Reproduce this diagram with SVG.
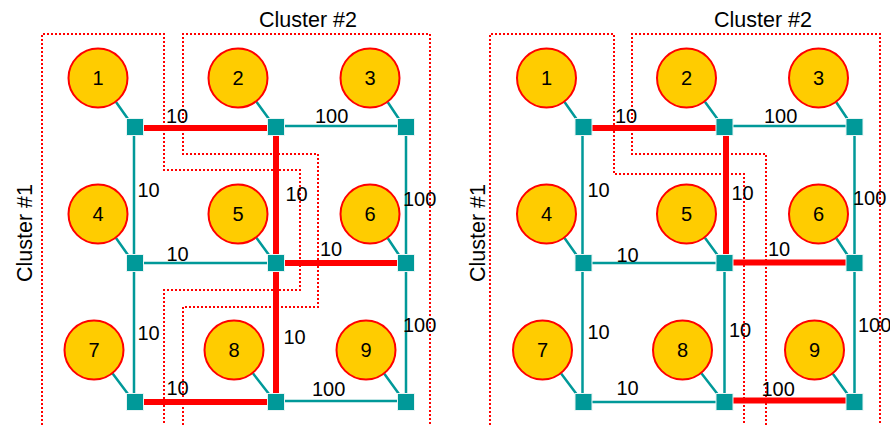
<svg xmlns="http://www.w3.org/2000/svg" width="890" height="425" viewBox="0 0 890 425">
<style>
.bg{fill:#ffffff}
.cl{fill:none;stroke:#ff0000;stroke-width:2;stroke-dasharray:2 2}
.host circle{fill:#ffcc00;stroke:#ff0000;stroke-width:2}
.t{font-family:"Liberation Sans",Arial,sans-serif;font-size:20px;fill:#000}
.ct{font-family:"Liberation Sans",Arial,sans-serif;font-size:21.5px;fill:#000;text-anchor:middle}
.n{text-anchor:middle}
.sw rect{fill:#009999;stroke:#e8f4f4;stroke-width:1}
.tl{stroke:#009999;stroke-width:2.5;fill:none}
.rd{stroke:#ff0000;stroke-width:6;fill:none}
</style>
<rect class="bg" x="0" y="0" width="890" height="425"/>

<g id="clusters">
  <path class="cl" d="M42 425 V34 H164 V170 H300 V290 H164 V425"/>
  <path class="cl" d="M183 425 V307 H318 V154 H183 V34 H430 V425"/>
  <path class="cl" d="M490 425 V34 H614 V174 H744 V425"/>
  <path class="cl" d="M766 425 V154 H632 V34 H880 V425"/>
  <text class="ct" x="308" y="26.5">Cluster #2</text>
  <text class="ct" x="763" y="26.5">Cluster #2</text>
  <text class="ct" transform="translate(32,233) rotate(-90)">Cluster #1</text>
  <text class="ct" transform="translate(485,233) rotate(-90)">Cluster #1</text>
</g>

<g id="connectors">
  <!-- left panel stubs -->
  <path class="tl" d="M116 102 L128 119 M256.4 101.7 L269 119 M387.8 102.2 L399 119 M116 238 L128 255 M256.4 237.7 L269 255 M387.8 238.2 L399 255 M112.6 373.6 L128 394 M252.9 373.3 L269 394 M384.3 373.8 L399 394"/>
  <!-- left panel teal edges -->
  <path class="tl" d="M276 126 H406 M134 127 V402 M135 263 H276 M406 127 V402 M276 401 H406"/>
  <!-- left panel red edges -->
  <path class="rd" d="M135 128 H276 M276 127 V402 M276 263 H406 M135 402 H276"/>
  <!-- right panel stubs -->
  <path class="tl" d="M564.5 102 L576.5 119 M704.9 101.7 L717.5 119 M836.3 102.2 L847.5 119 M564.5 238 L576.5 255 M704.9 237.7 L717.5 255 M836.3 238.2 L847.5 255 M561.1 373.6 L576.5 394 M701.4 373.3 L717.5 394 M832.8 373.8 L847.5 394"/>
  <!-- right panel teal edges -->
  <path class="tl" d="M724.5 126 H854.5 M582.5 127 V402 M583.5 263 H724.5 M854.5 127 V402 M724.5 263 V402 M583.5 402 H724.5"/>
  <!-- right panel red edges -->
  <path class="rd" d="M583.5 128 H724.5 M726 127 V256 M724.5 262.5 H854.5 M724.5 400.5 H854.5"/>
</g>

<g id="labels" class="t">
  <text x="166" y="123">10</text>
  <text x="315" y="123">100</text>
  <text x="137.5" y="197">10</text>
  <text x="285.5" y="201">10</text>
  <text x="403" y="206">100</text>
  <text x="166.5" y="261">10</text>
  <text x="320" y="256">10</text>
  <text x="137.5" y="340">10</text>
  <text x="283.5" y="344">10</text>
  <text x="403" y="331.5">100</text>
  <text x="166.5" y="395">10</text>
  <text x="312" y="396">100</text>

  <text x="615" y="123">10</text>
  <text x="764" y="123">100</text>
  <text x="587.5" y="196.5">10</text>
  <text x="731.5" y="200">10</text>
  <text x="853" y="205">100</text>
  <text x="616.5" y="261.5">10</text>
  <text x="768" y="255.5">10</text>
  <text x="587.5" y="339">10</text>
  <text x="729" y="336.5">10</text>
  <text x="858" y="331.5">100</text>
  <text x="616.5" y="394.5">10</text>
  <text x="761.5" y="395.5">100</text>
</g>

<g id="L-s1" class="sw"><rect x="126.5" y="118.5" width="17" height="17"/></g>
<g id="L-s2" class="sw"><rect x="267.5" y="118.5" width="17" height="17"/></g>
<g id="L-s3" class="sw"><rect x="397.5" y="118.5" width="17" height="17"/></g>
<g id="L-s4" class="sw"><rect x="126.5" y="254.5" width="17" height="17"/></g>
<g id="L-s5" class="sw"><rect x="267.5" y="254.5" width="17" height="17"/></g>
<g id="L-s6" class="sw"><rect x="397.5" y="254.5" width="17" height="17"/></g>
<g id="L-s7" class="sw"><rect x="126.5" y="393.5" width="17" height="17"/></g>
<g id="L-s8" class="sw"><rect x="267.5" y="393.5" width="17" height="17"/></g>
<g id="L-s9" class="sw"><rect x="397.5" y="393.5" width="17" height="17"/></g>

<g id="R-s1" class="sw"><rect x="575" y="118.5" width="17" height="17"/></g>
<g id="R-s2" class="sw"><rect x="716" y="118.5" width="17" height="17"/></g>
<g id="R-s3" class="sw"><rect x="846" y="118.5" width="17" height="17"/></g>
<g id="R-s4" class="sw"><rect x="575" y="254.5" width="17" height="17"/></g>
<g id="R-s5" class="sw"><rect x="716" y="254.5" width="17" height="17"/></g>
<g id="R-s6" class="sw"><rect x="846" y="254.5" width="17" height="17"/></g>
<g id="R-s7" class="sw"><rect x="575" y="393.5" width="17" height="17"/></g>
<g id="R-s8" class="sw"><rect x="716" y="393.5" width="17" height="17"/></g>
<g id="R-s9" class="sw"><rect x="846" y="393.5" width="17" height="17"/></g>

<g id="L-h1" class="host"><circle cx="98" cy="78" r="29.5"/><text class="t n" x="98" y="85">1</text></g>
<g id="L-h2" class="host"><circle cx="238" cy="78" r="29.5"/><text class="t n" x="238" y="85">2</text></g>
<g id="L-h3" class="host"><circle cx="370" cy="78" r="29.5"/><text class="t n" x="370" y="85">3</text></g>
<g id="L-h4" class="host"><circle cx="98" cy="214" r="29.5"/><text class="t n" x="98" y="221">4</text></g>
<g id="L-h5" class="host"><circle cx="238" cy="214" r="29.5"/><text class="t n" x="238" y="221">5</text></g>
<g id="L-h6" class="host"><circle cx="370" cy="214" r="29.5"/><text class="t n" x="370" y="221">6</text></g>
<g id="L-h7" class="host"><circle cx="94" cy="350" r="29.5"/><text class="t n" x="94" y="357">7</text></g>
<g id="L-h8" class="host"><circle cx="234" cy="350" r="29.5"/><text class="t n" x="234" y="357">8</text></g>
<g id="L-h9" class="host"><circle cx="366" cy="350" r="29.5"/><text class="t n" x="366" y="357">9</text></g>

<g id="R-h1" class="host"><circle cx="546.5" cy="78" r="29.5"/><text class="t n" x="546.5" y="85">1</text></g>
<g id="R-h2" class="host"><circle cx="686.5" cy="78" r="29.5"/><text class="t n" x="686.5" y="85">2</text></g>
<g id="R-h3" class="host"><circle cx="818.5" cy="78" r="29.5"/><text class="t n" x="818.5" y="85">3</text></g>
<g id="R-h4" class="host"><circle cx="546.5" cy="214" r="29.5"/><text class="t n" x="546.5" y="221">4</text></g>
<g id="R-h5" class="host"><circle cx="686.5" cy="214" r="29.5"/><text class="t n" x="686.5" y="221">5</text></g>
<g id="R-h6" class="host"><circle cx="818.5" cy="214" r="29.5"/><text class="t n" x="818.5" y="221">6</text></g>
<g id="R-h7" class="host"><circle cx="542.5" cy="350" r="29.5"/><text class="t n" x="542.5" y="357">7</text></g>
<g id="R-h8" class="host"><circle cx="682.5" cy="350" r="29.5"/><text class="t n" x="682.5" y="357">8</text></g>
<g id="R-h9" class="host"><circle cx="814.5" cy="350" r="29.5"/><text class="t n" x="814.5" y="357">9</text></g>
</svg>
